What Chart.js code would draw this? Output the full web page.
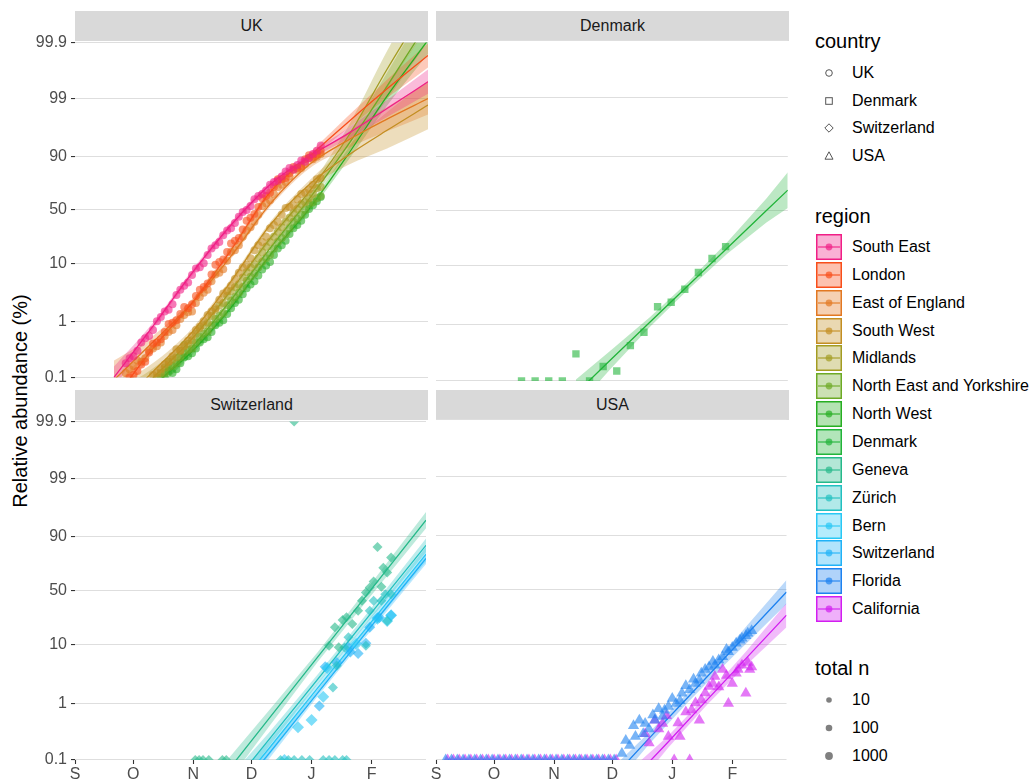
<!DOCTYPE html>
<html>
<head>
<meta charset="utf-8">
<title>Relative abundance by region</title>
<script src="https://cdn.jsdelivr.net/npm/chart.js@4.4.1/dist/chart.umd.min.js"></script>
<style>
  body { margin: 0; background: #fff; font-family: "Liberation Sans", Arial, Helvetica, sans-serif; }
  #page { position: relative; width: 1032px; height: 782px; overflow: hidden; }
  canvas { position: absolute; }
  .strip { position: absolute; height: 30px; line-height: 30px; background: #D9D9D9; color: #1A1A1A; font-size: 16px; text-align: center; }
  #ytitle { position: absolute; left: 20px; top: 401px; transform: translate(-50%, -50%) rotate(-90deg); font-size: 20px; white-space: nowrap; color: #000; }
  .ltitle { position: absolute; left: 815px; font-size: 20px; line-height: 20px; color: #000; }
  .lrow { position: absolute; left: 816px; height: 26px; width: 216px; }
  .lrow span { position: absolute; left: 36px; top: 0; line-height: 26px; font-size: 16px; color: #000; white-space: nowrap; }
  .lrow svg { position: absolute; left: 0; top: 0; }
</style>
</head>
<body>
<div id="page">
  <div id="ytitle">Relative abundance (%)</div>
</div>
<script>
/* --- axes --- */
// x values are days since 1 Sep 2020
const xTickDays = [0, 30, 61, 91, 122, 153];
const xTickLabels = ['S', 'O', 'N', 'D', 'J', 'F'];
const yTickPercents = [0.1, 1, 10, 50, 90, 99, 99.9];
const yTickLabels = ['0.1', '1', '10', '50', '90', '99', '99.9'];

/* --- legend --- */
const countries = ['UK', 'Denmark', 'Switzerland', 'USA'];
const regions = ['South East', 'London', 'East of England', 'South West', 'Midlands',
  'North East and Yorkshire', 'North West', 'Denmark', 'Geneva', 'Zürich', 'Bern',
  'Switzerland', 'Florida', 'California'];
const regionColors = ['#F01F86', '#F84E1A', '#E27822', '#C38E22', '#A39C22',
  '#6DAA25', '#27AE22', '#22B43A', '#26B98A', '#22C0C0', '#28C8F5',
  '#20B2F7', '#1E82F0', '#D21EF0'];
const totalNLevels = ['10', '100', '1000'];

/* --- UK (every other day, 26 Sep .. 5 Jan) --- */
const ukDays = [26, 28, 30, 32, 34, 36, 38, 40, 42, 44, 46, 48, 50, 52, 54, 56, 58, 60, 62, 64, 66, 68, 70, 72, 74,
  76, 78, 80, 82, 84, 86, 88, 90, 92, 94, 96, 98, 100, 102, 104, 106, 108, 110, 112, 114, 116, 118, 120, 122, 124, 126];
const southEastPct = [0.18, 0.22, 0.24, 0.3, 0.42, 0.5, 0.55, 0.7, 1.0, 1.2, 1.5, 1.6, 2.0, 2.9, 3.6, 4.2, 4.8, 6.4, 8.2, 8.6, 10, 13.5, 17, 19, 21,
  26, 30, 32, 37, 43, 48, 50, 54, 61, 64, 66, 69, 74, 76, 77, 80, 83, 85, 84, 86.5, 88.5, 88, 89.5, 91, 92, 93.5];
const londonPct = [null, 0.1, 0.11, 0.13, 0.17, 0.19, 0.28, 0.4, 0.42, 0.48, 0.65, 0.9, 0.95, 1.05, 1.35, 1.8, 1.7, 2.0, 2.8, 3.6, 4.0, 4.6, 6.5, 9.5, 10.5,
  11.5, 15, 20, 22, 24, 31, 39, 42, 46, 53, 62, 64, 67, 72, 78, 78, 79, 82, 85.5, 85, 86, 89, 90.5, 90, 91, 92];
const eastEnglandPct = [0.12, 0.14, 0.16, 0.2, 0.19, 0.22, 0.3, 0.33, 0.36, 0.42, 0.55, 0.65, 0.7, 0.85, 1.1, 1.3, 1.45, 1.5, 2.1, 2.7, 3.2, 3.6, 5, 6.5, 7,
  8, 11, 15, 16, 19, 25, 30, 33, 38, 45, 54, 57, 60, 66, 72, 74, 76, 80, 84, 84, 85, 87, 89.5, 89, 90, 91];
const southWestPct = [null, null, null, null, null, null, null, 0.11, 0.12, 0.14, 0.17, 0.19, 0.24, 0.32, 0.3, 0.36, 0.45, 0.55, 0.7, 0.8, 1.0, 1.3, 1.5, 1.7, 2.4,
  3.1, 3.4, 4.2, 5.5, 7, 8.5, 9.5, 12, 16, 19, 21, 25, 32, 35, 38, 45, 52, 53, 55, 61, 66, 67, 70, 74, 78, 79];
const midlandsPct = [null, null, null, null, null, null, null, null, 0.1, 0.12, 0.15, 0.19, 0.21, 0.23, 0.3, 0.38, 0.4, 0.46, 0.6, 0.75, 0.85, 0.95, 1.25, 1.6, 1.9,
  2.1, 2.8, 3.4, 4, 4.4, 5.8, 7.2, 8.5, 9.6, 12, 15, 18, 21, 25, 29, 33, 38, 42, 47, 51, 56, 58, 62, 66, 71, 72];
const neYorkshirePct = [null, null, null, null, null, null, null, null, null, 0.1, 0.12, 0.15, 0.16, 0.18, 0.23, 0.28, 0.31, 0.33, 0.42, 0.53, 0.6, 0.66, 0.85, 1.1, 1.25,
  1.4, 1.9, 2.3, 2.7, 3.2, 4.0, 5.1, 6.0, 6.8, 8.5, 10.5, 12, 13.5, 17, 21, 24, 27, 32, 38, 41, 45, 50, 56, 58, 62, 64];
const northWestPct = [null, null, null, null, null, null, null, null, null, null, 0.1, 0.13, 0.12, 0.14, 0.18, 0.23, 0.24, 0.27, 0.33, 0.42, 0.48, 0.52, 0.65, 0.85, 0.95,
  1.05, 1.35, 1.7, 2.1, 2.4, 3.0, 3.8, 4.4, 5.0, 6.3, 7.9, 9.2, 10.5, 13.5, 17, 19, 22, 27, 32, 35, 39, 45, 51, 55, 59, 63];

// fitted curves (percent) and their band half-width on the logit scale
const ukFitDays = [20, 40, 60, 80, 100, 120, 140, 160, 181];
const southEastFit = [0.1, 0.82, 6.9, 35, 74, 90, 95.9, 98.5, 99.5];
const southEastBand = [0.45, 0.14, 0.12, 0.12, 0.12, 0.14, 0.22, 0.35, 0.5];
const londonFit = [0.04, 0.33, 2.1, 16.1, 67.5, 90, 97.4, 99.33, 99.83];
const londonBand = [0.5, 0.16, 0.12, 0.12, 0.12, 0.14, 0.25, 0.38, 0.5];
const eastEnglandFit = [0.09, 0.43, 2.1, 13, 56, 86.6, 94.7, 97.7, 99.0];
const eastEnglandBand = [0.8, 0.25, 0.16, 0.12, 0.12, 0.16, 0.32, 0.5, 0.65];
const southWestFit = [0.025, 0.127, 0.64, 5, 35, 74, 90.5, 96.4, 98.7];
const southWestBand = [1.0, 0.35, 0.16, 0.12, 0.12, 0.16, 0.4, 0.75, 1.0];
const midlandsFit = [0.02, 0.098, 0.49, 3.5, 23.5, 68, 95.4, 99.7, 99.981];
const midlandsBand = [1.0, 0.4, 0.16, 0.12, 0.12, 0.16, 0.4, 0.75, 1.0];
const neYorkshireFit = [0.012, 0.064, 0.35, 2.4, 17, 61, 93.6, 99.4, 99.957];
const neYorkshireBand = [0.8, 0.4, 0.16, 0.12, 0.12, 0.14, 0.32, 0.55, 0.8];
const northWestFit = [0.012, 0.069, 0.29, 1.76, 13.4, 51, 90.8, 99.1, 99.91];
const northWestBand = [0.7, 0.32, 0.14, 0.12, 0.12, 0.14, 0.25, 0.4, 0.58];

/* --- Denmark --- */
const denmarkDays = [44, 51, 58, 65, 72, 79, 86, 93, 100, 107, 114, 121, 128, 135, 142, 149];
const denmarkPct = [0, 0, 0, 0, 0.3, 0, 0.18, 0.15, 0.42, 0.72, 2.0, 2.4, 4.0, 7.6, 12.7, 19];
const denmarkFitDays = [72, 90, 110, 130, 150, 170, 181];
const denmarkFit = [0.06, 0.24, 1.08, 4.7, 18.4, 50.5, 70];
const denmarkBand = [0.57, 0.37, 0.2, 0.16, 0.24, 0.49, 0.73];

/* --- Switzerland --- */
const genevaDays = [62, 64, 66, 69, 76, 78, 113, 131, 134, 136, 138, 140, 143, 146, 148, 150, 152, 154, 156, 158, 159, 161, 163];
const genevaPct = [0, 0, 0, 0, 0, 0, 100, 9.6, 18.4, 9.1, 23.3, 25.3, 20.5, 30.7, 40, 48.3, 53.3, 59.4, 85.7, 54, 72, 67.8, 79.5];
const zurichDays = [106, 110, 113, 117, 121, 128, 131, 133, 134, 135, 138, 139, 140, 141, 150, 152, 154, 158, 160, 161, 163];
const zurichPct = [0, 0, 0, 0, 0, 0, 0, 1.9, 0, 4.5, 0, 9, 0, 13.1, 9.6, 30.7, 40, 40, 46.6, 22.5, 46.6];
const bernDays = [108, 115, 122, 128, 130, 145, 156, 161, 163];
const bernPct = [0, 0.38, 0.51, 1.3, 4.1, 10.2, 24.3, 22.5, 26.9];
const switzerlandDays = [126, 129, 135, 141, 142, 146, 150, 152, 156, 157, 163];
const switzerlandPct = [0.9, 4.3, 5.1, 9.1, 7.6, 7.2, 10.5, 18.4, 25, 25.2, 27];

const swissFitDays = [75, 100, 125, 150, 181];
const genevaFit = [0.044, 0.54, 6.2, 44.5, 94.7];
const genevaBand = [0.49, 0.33, 0.2, 0.24, 0.33];
const otherSwissFitDays = [85, 100, 125, 150, 181];
const zurichFit = [0.053, 0.23, 2.6, 23.5, 86.5];
const zurichBand = [0.41, 0.28, 0.2, 0.2, 0.28];
const bernFit = [0.037, 0.16, 1.83, 17.6, 81.6];
const bernBand = [0.41, 0.3, 0.2, 0.22, 0.3];
const switzerlandFit = [0.03, 0.13, 1.5, 15.2, 78.9];
const switzerlandBand = [0.35, 0.22, 0.14, 0.16, 0.22];

/* --- USA --- */
const floridaDays = [5, 8, 11, 14, 17, 20, 23, 26, 29, 32, 35, 38, 41, 44, 47, 50, 53, 56, 59, 62, 65, 68, 71, 74, 77, 80, 83, 86, 89, 92,
  96, 98, 100, 102, 103, 105, 107, 108, 110, 112, 113, 115, 117, 118, 120, 122, 124, 126, 127, 129, 131, 133, 134, 136,
  137, 139, 141, 143, 144, 146, 148, 150, 151, 153, 155, 157, 158, 160, 161, 163];
const floridaPct = [0, 0, 0, 0, 0, 0, 0, 0, 0, 0, 0, 0, 0, 0, 0, 0, 0, 0, 0, 0, 0, 0, 0, 0, 0, 0, 0, 0, 0, 0,
  0.13, 0.22, 0.18, 0.4, 0.26, 0.5, 0.29, 0.44, 0.35, 0.62, 0.5, 0.8, 0.58, 0.75, 0.87, 1.2, 0.98, 1.1, 1.48, 2.0, 1.7, 2.6, 2.2, 2.5,
  3.3, 3.8, 4.2, 5.2, 4.5, 5.5, 6.2, 8.2, 7.5, 8.8, 10.3, 11.5, 12.3, 13.5, 14.7, 16];
const californiaDays = [6, 9, 12, 15, 18, 21, 24, 27, 30, 33, 36, 39, 42, 45, 48, 51, 54, 57, 60, 63, 66, 69, 72, 75, 78, 81, 84, 87, 90, 93,
  108, 110, 113, 115, 117, 119, 120, 123, 125, 126, 129, 131, 132, 134, 136, 137, 139, 141, 143, 144, 146, 148, 150, 151,
  153, 155, 156, 158, 160, 161, 162, 163];
const californiaPct = [0, 0, 0, 0, 0, 0, 0, 0, 0, 0, 0, 0, 0, 0, 0, 0, 0, 0, 0, 0, 0, 0, 0, 0, 0, 0, 0, 0, 0, 0,
  0.29, 0.2, 0.5, 0.35, 0.44, 0.6, 0.26, 0, 0.45, 0.26, 0.7, 0, 0.76, 1.0, 0.5, 1.14, 1.5, 1.95, 2.2, 2.9, 1.9, 3.8, 3.0, 0.98,
  2.2, 3.3, 3.8, 4.5, 1.48, 5.0, 3.8, 4.2];
const floridaFitDays = [90, 110, 130, 150, 181];
const floridaFit = [0.044, 0.24, 1.25, 6.4, 48];
const floridaBand = [0.41, 0.24, 0.2, 0.28, 0.49];
const californiaFitDays = [100, 120, 140, 160, 181];
const californiaFit = [0.04, 0.21, 1.14, 5.8, 26.5];
const californiaBand = [0.49, 0.24, 0.2, 0.28, 0.49];

/* --- helpers --- */
const FONT = "'Liberation Sans', Arial, Helvetica, sans-serif";
const logit = p => Math.log(p / (1 - p));
const Y_MIN = logit(0.001);
const Y_MAX = logit(0.999);
// observed shares of 0 or 100 % sit on the panel edge
const pointY = pct => logit(Math.min(Math.max(pct, 0.1), 99.9) / 100);

function rgba(hex, a) {
  const n = parseInt(hex.slice(1), 16);
  return `rgba(${(n >> 16) & 255},${(n >> 8) & 255},${n & 255},${a})`;
}
const colorOf = region => regionColors[regions.indexOf(region)];

function regionDatasets(s) {
  const color = colorOf(s.region);
  const centre = s.fit.map(p => logit(p / 100));
  const smooth = s.smooth ? { cubicInterpolationMode: 'monotone' } : {};
  const pts = [];
  s.days.forEach((d, i) => {
    if (s.pct[i] !== null) pts.push({ x: d, y: pointY(s.pct[i]) });
  });
  return [
    { type: 'line', data: s.fitDays.map((d, i) => ({ x: d, y: centre[i] + s.band[i] })),
      borderWidth: 0, pointRadius: 0, fill: false, order: 3, clip: 0, ...smooth },
    { type: 'line', data: s.fitDays.map((d, i) => ({ x: d, y: centre[i] - s.band[i] })),
      borderWidth: 0, pointRadius: 0, fill: '-1', backgroundColor: rgba(color, 0.3), order: 3, clip: 0, ...smooth },
    { type: 'line', data: s.fitDays.map((d, i) => ({ x: d, y: centre[i] })),
      borderColor: color, borderWidth: 1.3, pointRadius: 0, fill: false, order: 2, clip: 0, ...smooth },
    { type: 'scatter', data: pts, pointStyle: s.shape, pointRadius: s.size,
      backgroundColor: rgba(color, 0.6), borderWidth: 0, order: 1, clip: 0 }
  ];
}

/* --- panels --- */
const PLOT_W = 353, PLOT_H = 340;
const page = document.getElementById('page');

function makePanel(title, plotLeft, plotTop, showX, showY, series) {
  const yAxisW = showY ? 75 : 0;
  const xAxisH = showX ? 22 : 0;
  const m = { l: showY ? 75 : 8, t: 12, r: 4, b: showX ? 22 : 10 };

  const strip = document.createElement('div');
  strip.className = 'strip';
  strip.textContent = title;
  strip.style.left = plotLeft + 'px';
  strip.style.top = (plotTop - 30) + 'px';
  strip.style.width = PLOT_W + 'px';
  page.appendChild(strip);

  const canvas = document.createElement('canvas');
  canvas.width = PLOT_W + m.l + m.r;
  canvas.height = PLOT_H + m.t + m.b;
  canvas.style.left = (plotLeft - m.l) + 'px';
  canvas.style.top = (plotTop - m.t) + 'px';
  page.appendChild(canvas);

  return new Chart(canvas, {
    type: 'scatter',
    data: { datasets: series.flatMap(regionDatasets) },
    options: {
      responsive: false,
      animation: false,
      events: [],
      layout: { padding: { left: m.l - yAxisW, top: m.t, right: m.r, bottom: m.b - xAxisH } },
      plugins: { legend: { display: false }, tooltip: { enabled: false } },
      scales: {
        x: {
          type: 'linear', min: 0, max: 181, display: showX,
          afterBuildTicks: s => { s.ticks = xTickDays.map(v => ({ value: v })); },
          afterFit: s => { s.height = xAxisH; },
          border: { display: false },
          grid: { drawOnChartArea: false, drawTicks: true, tickLength: 4, tickColor: '#333333', tickWidth: 1.1 },
          ticks: { autoSkip: false, maxRotation: 0, padding: 1, color: '#4D4D4D',
            font: { family: FONT, size: 16 }, callback: (v, i) => xTickLabels[i] }
        },
        y: {
          type: 'linear', min: Y_MIN, max: Y_MAX,
          afterBuildTicks: s => { s.ticks = yTickPercents.map(p => ({ value: logit(p / 100) })); },
          afterFit: s => { s.width = yAxisW; },
          border: { display: false },
          grid: { color: '#DEDEDE', lineWidth: 1.1, drawTicks: showY, tickLength: 4, tickColor: '#333333', tickWidth: 1.1 },
          ticks: { display: showY, autoSkip: false, padding: 4, color: '#4D4D4D',
            font: { family: FONT, size: 16 }, callback: (v, i) => yTickLabels[i] }
        }
      }
    }
  });
}

const ukSeries = [
  ['South East', southEastPct, southEastFit, southEastBand],
  ['London', londonPct, londonFit, londonBand],
  ['East of England', eastEnglandPct, eastEnglandFit, eastEnglandBand],
  ['South West', southWestPct, southWestFit, southWestBand],
  ['Midlands', midlandsPct, midlandsFit, midlandsBand],
  ['North East and Yorkshire', neYorkshirePct, neYorkshireFit, neYorkshireBand],
  ['North West', northWestPct, northWestFit, northWestBand]
].map(([region, pct, fit, band]) => ({
  region, days: ukDays, pct, fitDays: ukFitDays, fit, band, shape: 'circle', size: 4, smooth: true
}));

const denmarkSeries = [{
  region: 'Denmark', days: denmarkDays, pct: denmarkPct, fitDays: denmarkFitDays,
  fit: denmarkFit, band: denmarkBand, shape: 'rect', size: 5.2
}];

const swissSeries = [
  ['Geneva', genevaDays, genevaPct, swissFitDays, genevaFit, genevaBand, 5],
  ['Zürich', zurichDays, zurichPct, otherSwissFitDays, zurichFit, zurichBand, 5],
  ['Bern', bernDays, bernPct, otherSwissFitDays, bernFit, bernBand, 6],
  ['Switzerland', switzerlandDays, switzerlandPct, otherSwissFitDays, switzerlandFit, switzerlandBand, 5.5]
].map(([region, days, pct, fitDays, fit, band, size]) => ({
  region, days, pct, fitDays, fit, band, shape: 'rectRot', size
}));

const usaSeries = [
  ['Florida', floridaDays, floridaPct, floridaFitDays, floridaFit, floridaBand],
  ['California', californiaDays, californiaPct, californiaFitDays, californiaFit, californiaBand]
].map(([region, days, pct, fitDays, fit, band]) => ({
  region, days, pct, fitDays, fit, band, shape: 'triangle', size: 6.5
}));

makePanel('UK', 75, 41, false, true, ukSeries);
makePanel('Denmark', 436, 41, false, false, denmarkSeries);
makePanel('Switzerland', 75, 420, true, true, swissSeries);
makePanel('USA', 436, 420, true, false, usaSeries);

/* --- legend (html) --- */
function legendTitle(text, top) {
  const d = document.createElement('div');
  d.className = 'ltitle';
  d.style.top = top + 'px';
  d.textContent = text;
  page.appendChild(d);
}
function legendRow(top, svg, label) {
  const d = document.createElement('div');
  d.className = 'lrow';
  d.style.top = top + 'px';
  d.innerHTML = `<svg width="26" height="26">${svg}</svg><span>${label}</span>`;
  page.appendChild(d);
}

const SHAPE_SVG = [
  '<circle cx="13" cy="13" r="3.3" fill="none" stroke="#555" stroke-width="1"/>',
  '<rect x="9.7" y="9.7" width="6.6" height="6.6" fill="none" stroke="#555" stroke-width="1"/>',
  '<path d="M13 8.8 L17.2 13 L13 17.2 L8.8 13 Z" fill="none" stroke="#555" stroke-width="1"/>',
  '<path d="M13 8.8 L17 16.2 L9 16.2 Z" fill="none" stroke="#555" stroke-width="1"/>'
];

legendTitle('country', 31);
countries.forEach((c, i) => legendRow(60 + i * 27.7, SHAPE_SVG[i], c));

legendTitle('region', 206);
regions.forEach((r, i) => {
  const c = regionColors[i];
  const key = `<rect x="0.75" y="0.75" width="24.5" height="24.5" fill="${rgba(c, 0.35)}" stroke="${c}" stroke-width="1.5"/>` +
    `<line x1="2" y1="13" x2="24" y2="13" stroke="${c}" stroke-width="1.1"/>` +
    `<circle cx="13" cy="13" r="3.4" fill="${rgba(c, 0.7)}"/>`;
  legendRow(234 + i * 27.85, key, r);
});

legendTitle('total n', 658);
const nRadius = [2.8, 3.3, 3.9];
totalNLevels.forEach((n, i) => {
  legendRow(687 + i * 28, `<circle cx="13" cy="13" r="${nRadius[i]}" fill="#808080"/>`, n);
});
</script>
</body>
</html>
